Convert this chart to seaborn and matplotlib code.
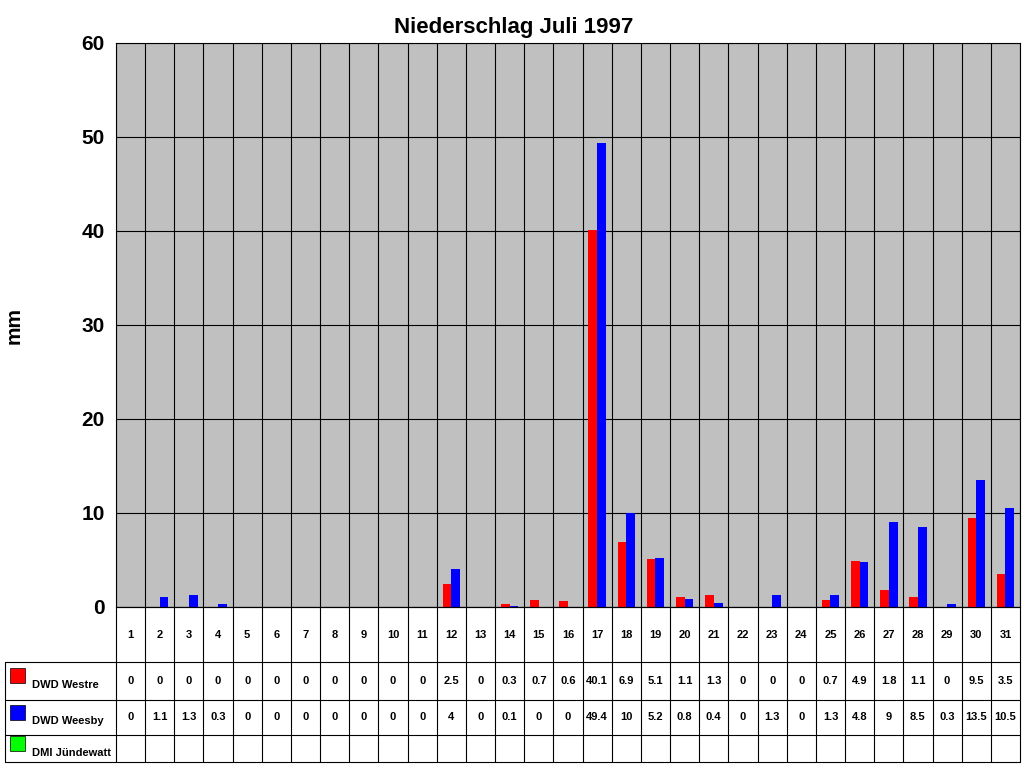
import numpy as np
import pandas as pd
import matplotlib
matplotlib.use("Agg")
import matplotlib.pyplot as plt
import seaborn as sns
from matplotlib.patches import Rectangle
from matplotlib.lines import Line2D

days = [str(d) for d in range(1, 32)]
westre = [0, 0, 0, 0, 0, 0, 0, 0, 0, 0, 0, 2.5, 0, 0.3, 0.7, 0.6, 40.1, 6.9, 5.1, 1.1, 1.3,
          0, 0, 0, 0.7, 4.9, 1.8, 1.1, 0, 9.5, 3.5]
weesby = [0, 1.1, 1.3, 0.3, 0, 0, 0, 0, 0, 0, 0, 4, 0, 0.1, 0, 0, 49.4, 10, 5.2, 0.8, 0.4,
          0, 1.3, 0, 1.3, 4.8, 9, 8.5, 0.3, 13.5, 10.5]
series = ["DWD Westre", "DWD Weesby", "DMI Jündewatt"]
colors = ["#ff0000", "#0000ff", "#00ff00"]

df = pd.DataFrame({"Tag": days * 2,
                   "mm": westre + weesby,
                   "Station": ["DWD Westre"] * 31 + ["DWD Weesby"] * 31})

sns.set_style("white")
plt.rcParams['font.family'] = ['Liberation Sans', 'DejaVu Sans']
plt.rcParams['text.color'] = 'black'
plt.rcParams['axes.labelcolor'] = 'black'
plt.rcParams['ytick.color'] = 'black'

W, H = 1024, 768
fig = plt.figure(figsize=(10.24, 7.68), dpi=100)
L, R, T, B = 116, 1020, 43, 607
ax = fig.add_axes([L / W, 1 - B / H, (R - L) / W, (B - T) / H])
ax.set_facecolor("#c0c0c0")

sns.barplot(data=df, x="Tag", y="mm", hue="Station", palette=colors[:2],
            width=0.6, ax=ax, legend=False, saturation=1, linewidth=0)
ax.set_ylim(0, 60)
ax.set_xlim(-0.5, 30.5)
ax.set_yticks(range(0, 61, 10))
ax.tick_params(axis="y", labelsize=15, length=0, pad=8)
for lab in ax.get_yticklabels():
    lab.set_fontweight("bold")
ax.set_xticks([])
ax.set_xlabel("")
ax.set_ylabel("mm", fontsize=15, fontweight="bold", labelpad=42)
ax.grid(axis="y", color="black", linewidth=0.8)
for i in range(32):
    ax.axvline(i - 0.5, color="black", linewidth=0.8)
for s in ax.spines.values():
    s.set_color("black")
ax.set_axisbelow(True)
fig.text(514 / W, 1 - 28 / H, "Niederschlag Juli 1997", ha="center", va="center",
         fontsize=16, fontweight="bold")

# Datentabelle unter dem Diagramm
def fx(x):
    return x / W

def fy(y):
    return 1 - y / H

rows = [607, 662, 700, 735, 762]
for y in rows:
    x0 = L if y == 607 else 5
    fig.add_artist(Line2D([fx(x0), fx(R)], [fy(y), fy(y)], color="black", lw=0.8))
cw = (R - L) / 31
for i in range(32):
    x = L + i * cw
    fig.add_artist(Line2D([fx(x), fx(x)], [fy(607), fy(762)], color="black", lw=0.8))
fig.add_artist(Line2D([fx(5), fx(5)], [fy(662), fy(762)], color="black", lw=0.8))

for i, d in enumerate(days):
    cx = L + (i + 0.5) * cw
    fig.text(fx(cx), fy(635), d, ha="center", va="center", fontsize=8, fontweight="bold")
    fig.text(fx(cx), fy(681), f"{westre[i]:g}", ha="center", va="center", fontsize=8, fontweight="bold")
    fig.text(fx(cx), fy(717), f"{weesby[i]:g}", ha="center", va="center", fontsize=8, fontweight="bold")

for j, (name, c) in enumerate(zip(series, colors)):
    yc = [(662 + 700) / 2, (700 + 735) / 2, (735 + 762) / 2][j]
    fig.add_artist(Rectangle((fx(10), fy(yc + 2)), 15 / W, 15 / H, facecolor=c,
                             edgecolor="black", lw=0.5))
    fig.text(fx(32), fy(yc + 4), name, ha="left", va="center", fontsize=8, fontweight="bold")

fig.savefig("out.png", dpi=100)
